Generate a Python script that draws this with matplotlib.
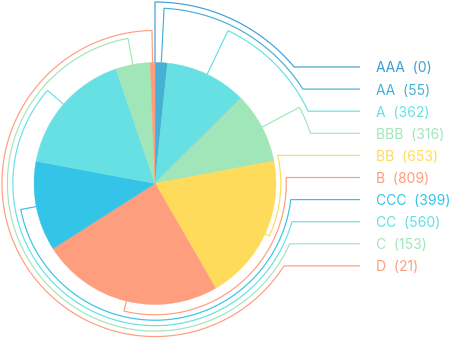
import numpy as np
import matplotlib
matplotlib.use("Agg")
import matplotlib.pyplot as plt

# ratings and their counts
names = ["AAA", "AA", "A", "BBB", "BB", "B", "CCC", "CC", "C", "D"]
counts = [0, 55, 362, 316, 653, 809, 399, 560, 153, 21]
slice_colors = ["#3d9fd8", "#47b0d5", "#66e0e3", "#a1e6b9", "#fedb5b",
                "#fe9e7e", "#33c4e8", "#66e0e3", "#a1e6b9", "#fe9e7e"]

plt.rcParams["font.family"] = ["Inter", "DejaVu Sans"]

fig = plt.figure(figsize=(4.51, 3.38), dpi=100)
ax = fig.add_axes([0, 0, 1, 1])

ax.pie(counts, colors=slice_colors, startangle=90, counterclock=False,
       radius=1.0, center=(0, 0),
       wedgeprops=dict(linewidth=0.3))
for w, c in zip(ax.patches, slice_colors):
    w.set_edgecolor(c)

# mid angle of each slice, clockwise from 12 o'clock (degrees)
total = float(sum(counts))
ends = np.cumsum(counts) / total * 360.0
starts = ends - np.array(counts) / total * 360.0
mids = (starts + ends) / 2.0


def pt(r, deg):
    t = np.radians(deg)
    return r * np.sin(t), r * np.cos(t)


px = 121.0  # pixels per unit radius
label_top = (183.5 - 67) / px
label_step = 22.1 / px
line_end = (360 - 155) / px
text_x = (376 - 155) / px

upper = [i for i in range(len(names)) if mids[i] < 90]
lower = [i for i in range(len(names)) if mids[i] >= 90]
radius = {}
for k, i in enumerate(upper):
    radius[i] = 1.50 - 0.05 * k
for k, i in enumerate(lower):
    radius[i] = 1.04 + 0.045 * k

for i, name in enumerate(names):
    R = radius[i]
    yl = label_top - i * label_step
    theta_l = np.degrees(np.arccos(np.clip(yl / R, -1, 1)))
    r0 = min(1.0, R - 0.06)
    x0, y0 = pt(r0, mids[i])
    arc = np.linspace(mids[i], theta_l, 200)
    ax_, ay_ = pt(R, arc)
    xs = np.concatenate([[x0], ax_, [line_end]])
    ys = np.concatenate([[y0], ay_, [yl]])
    ax.plot(xs, ys, color=slice_colors[i], lw=0.85, solid_capstyle="butt")
    ax.text(text_x, yl, f"{name}  ({counts[i]})", color=slice_colors[i],
            fontsize=10, va="center_baseline", ha="left")

ax.set_xlim(-155 / px, 296 / px)
ax.set_ylim(-(338 - 183.5) / px, 183.5 / px)
ax.set_aspect("equal")
ax.axis("off")

fig.savefig("out.png", dpi=100)
